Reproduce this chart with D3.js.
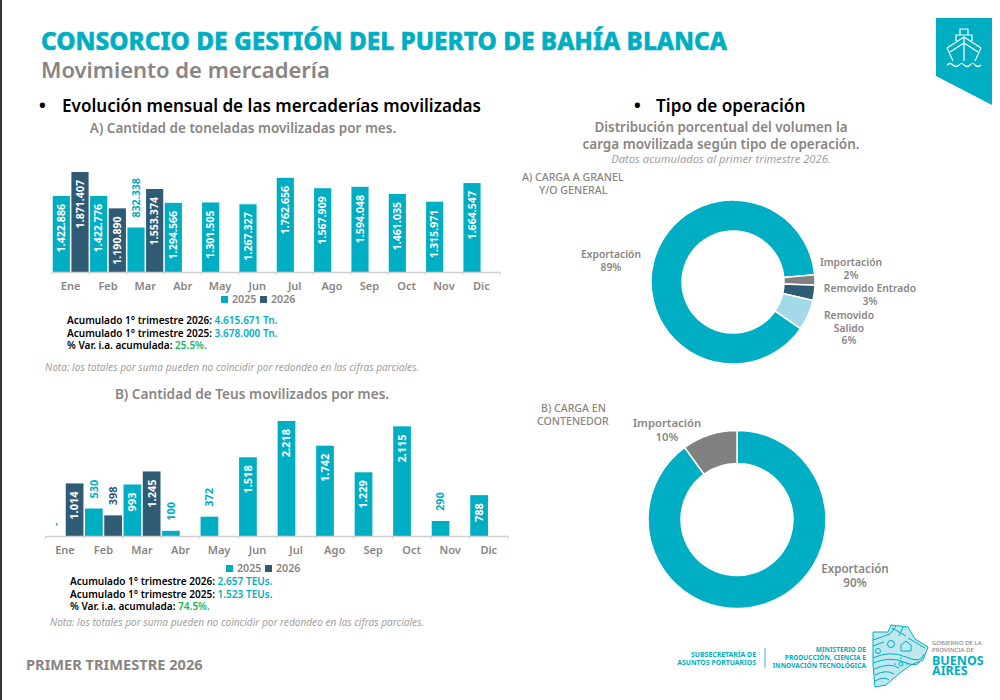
<!DOCTYPE html>
<html>
<head>
<meta charset="utf-8">
<script src="https://cdn.jsdelivr.net/npm/d3@7"></script>
<style>
  html, body { margin: 0; padding: 0; background: #fff; }
  svg { display: block; font-family: "Noto Sans", sans-serif; }
</style>
</head>
<body>
<div id="chart"></div>
<script>
var TEAL = "#00aec3", NAVY = "#2f5b75", GREY = "#8a8583", GREEN = "#1cb55c";

var months = ["Ene", "Feb", "Mar", "Abr", "May", "Jun", "Jul", "Ago", "Sep", "Oct", "Nov", "Dic"];
var years = ["2025", "2026"];

var tons2025 = [1422886, 1422776, 832338, 1294566, 1301505, 1267327, 1762656, 1567909, 1594048, 1461035, 1315971, 1664547];
var tons2026 = [1871407, 1190890, 1553374];
var tonsOutside = ["Mar-2025"];

var teus2025 = [0, 530, 993, 100, 372, 1518, 2218, 1742, 1229, 2115, 290, 788];
var teus2026 = [1014, 398, 1245];
var teusOutside = ["Ene-2025", "Feb-2025", "Feb-2026", "Abr-2025", "May-2025", "Nov-2025"];

var granelLabels = ["Exportación", "Importación", "Removido Entrado", "Removido Salido"];
var granelValues = [89, 2, 3, 6];
var granelColors = [TEAL, "#808080", NAVY, "#a3d9e8"];

var contLabels = ["Exportación", "Importación"];
var contValues = [90, 10];
var contColors = [TEAL, "#808080"];

var fmt = d3.formatLocale({ decimal: ",", thousands: ".", grouping: [3], currency: ["$", ""] }).format(",d");

var svg = d3.select("#chart").append("svg").attr("width", 1000).attr("height", 700);

function text(x, y, str, size, fill, opts) {
  opts = opts || {};
  return svg.append("text")
    .attr("x", x).attr("y", y)
    .attr("font-size", size)
    .attr("fill", fill)
    .attr("font-weight", opts.weight || 700)
    .attr("font-style", opts.italic ? "italic" : null)
    .attr("text-anchor", opts.anchor || "start")
    .text(str);
}

// header
svg.append("rect").attr("x", 0).attr("y", 0).attr("width", 2).attr("height", 700).attr("fill", "#333");
text(41, 50, "CONSORCIO DE GESTIÓN DEL PUERTO DE BAHÍA BLANCA", 24.35, TEAL, { weight: 800 })
  .attr("stroke", TEAL).attr("stroke-width", 0.5);
text(41, 78, "Movimiento de mercadería", 22, GREY, { weight: 600 });

svg.append("path").attr("d", "M936,18H992V105L936,76Z").attr("fill", TEAL);
var ship = svg.append("g").attr("fill", "none").attr("stroke", "#fff").attr("stroke-width", 1.2).attr("stroke-linejoin", "round");
ship.append("path").attr("d", "M960,35V29H968V35M956,41V35H972V41");
ship.append("path").attr("d", "M964,37V61M947,48L964,37L981,48M947,48L953,61M981,48L975,61M950,52L964,43L978,52");
ship.append("path").attr("d", "M947,65q3,-3 6,0q3,3 6,0q3,-3 5,0q3,3 6,0q3,-3 5,0q3,3 6,0");

// left column headings
text(39, 112, "•", 18, "#000");
text(62, 112, "Evolución mensual de las mercaderías movilizadas", 17.1, "#000", { weight: 600 });
text(243, 133, "A) Cantidad de toneladas movilizadas por mes.", 13.5, GREY, { anchor: "middle", weight: 600 });
text(252, 399, "B) Cantidad de Teus movilizados por mes.", 13.65, GREY, { anchor: "middle", weight: 600 });

// draws one grouped bar panel
function barPanel(cfg) {
  var x0 = d3.scaleBand().domain(months).range([cfg.left, cfg.right]);
  var x1 = d3.scaleBand().domain(years).range([0, x0.bandwidth()]).paddingInner(0.08).paddingOuter(0.04);
  var y = d3.scaleLinear().domain([0, d3.max(cfg.a.concat(cfg.b))]).range([cfg.base, cfg.top]);

  var rows = [];
  months.forEach(function(m, i) {
    rows.push({ month: m, year: "2025", value: cfg.a[i] });
    if (i < cfg.b.length) rows.push({ month: m, year: "2026", value: cfg.b[i] });
  });

  var g = svg.append("g");
  g.selectAll("rect").data(rows).enter().append("rect")
    .attr("x", function(d) { return x0(d.month) + x1(d.year); })
    .attr("y", function(d) { return y(d.value); })
    .attr("width", x1.bandwidth())
    .attr("height", function(d) { return cfg.base - y(d.value); })
    .attr("fill", function(d) { return d.year === "2025" ? TEAL : NAVY; });

  g.selectAll("text").data(rows).enter().append("text")
    .attr("transform", function(d) {
      var out = cfg.outside.indexOf(d.month + "-" + d.year) >= 0;
      var ly = out ? y(d.value) - 10 : y(d.value) + 8;
      return "translate(" + (x0(d.month) + x1(d.year) + x1.bandwidth() / 2) + "," + ly + ") rotate(-90)";
    })
    .attr("text-anchor", function(d) {
      return cfg.outside.indexOf(d.month + "-" + d.year) >= 0 ? "start" : "end";
    })
    .attr("dy", "0.35em")
    .attr("font-size", cfg.labelSize)
    .attr("font-weight", 700)
    .attr("fill", function(d) {
      if (cfg.outside.indexOf(d.month + "-" + d.year) < 0) return "#fff";
      return d.year === "2025" ? TEAL : NAVY;
    })
    .text(function(d) { return d.value === 0 ? "-" : fmt(d.value); });

  var axis = d3.axisBottom(x0).tickSize(0).tickPadding(cfg.tickPad);
  var ax = svg.append("g").attr("transform", "translate(0," + cfg.base + ")").call(axis);
  ax.select(".domain").attr("stroke", "#d0d0d0").attr("stroke-width", 1.5);
  ax.selectAll(".tick text")
    .attr("font-family", "Noto Sans")
    .attr("font-size", 11)
    .attr("font-weight", 600)
    .attr("fill", GREY);
  months.concat([null]).forEach(function(m) {
    var px = m ? x0(m) : cfg.right;
    ax.append("line").attr("x1", px).attr("x2", px).attr("y1", 0).attr("y2", 3)
      .attr("stroke", "#d0d0d0").attr("stroke-width", 1);
  });

  // legend
  var lx = cfg.legendX;
  years.forEach(function(yr, i) {
    svg.append("rect").attr("x", lx + i * 39).attr("y", cfg.legendY - 7).attr("width", 7).attr("height", 7)
      .attr("fill", i ? NAVY : TEAL);
    text(lx + 11 + i * 39, cfg.legendY, yr, 10.7, GREY, { weight: 600 });
  });
}

barPanel({
  a: tons2025, b: tons2026, outside: tonsOutside,
  left: 52, right: 500, top: 172, base: 272,
  labelSize: 10.6, tickPad: 10,
  legendX: 221, legendY: 303
});

barPanel({
  a: teus2025, b: teus2026, outside: teusOutside,
  left: 45.7, right: 508, top: 421, base: 536,
  labelSize: 11, tickPad: 10,
  legendX: 226, legendY: 572
});

// cumulative notes
function summary(x, y, lines) {
  lines.forEach(function(l, i) {
    var t = svg.append("text").attr("x", x).attr("y", y + i * 12.6).attr("font-size", 10.05).attr("font-weight", 600);
    t.append("tspan").attr("fill", "#000").text(l[0] + " ");
    t.append("tspan").attr("fill", l[2]).text(l[1]);
  });
}
summary(67, 324, [
  ["Acumulado 1° trimestre 2026:", "4.615.671 Tn.", TEAL],
  ["Acumulado 1° trimestre 2025:", "3.678.000 Tn.", TEAL],
  ["% Var. i.a. acumulada:", "25.5%.", GREEN]
]);
summary(70, 585, [
  ["Acumulado 1° trimestre 2026:", "2.657 TEUs.", TEAL],
  ["Acumulado 1° trimestre 2025:", "1.523 TEUs.", TEAL],
  ["% Var. i.a. acumulada:", "74.5%.", GREEN]
]);
text(45, 371, "Nota: los totales por suma pueden no coincidir por redondeo en las cifras parciales.", 10.1, "#a3a09e", { weight: 400, italic: true });
text(50, 626, "Nota: los totales por suma pueden no coincidir por redondeo en las cifras parciales.", 10.1, "#a3a09e", { weight: 400, italic: true });

// right column
text(634, 112, "•", 18, "#000");
text(656, 112, "Tipo de operación", 17.2, "#000", { weight: 600 });
text(721, 132, "Distribución porcentual del volumen la", 13.4, GREY, { anchor: "middle", weight: 600 });
text(721, 149, "carga movilizada según tipo de operación.", 13.5, GREY, { anchor: "middle", weight: 600 });
text(721, 163, "Datos acumulados al primer trimestre 2026.", 11.2, "#a3a09e", { anchor: "middle", weight: 400, italic: true });

text(522, 181, "A) CARGA A GRANEL", 10.6, GREY, { weight: 500 });
text(539, 194, "Y/O GENERAL", 10.6, GREY, { weight: 500 });
text(541, 412, "B) CARGA EN", 10.6, GREY, { weight: 500 });
text(537, 425, "CONTENEDOR", 10.6, GREY, { weight: 500 });

function donut(cx, cy, r, r0, values, colors, start) {
  var pie = d3.pie().sort(null).startAngle(start).endAngle(start + 2 * Math.PI);
  var arc = d3.arc().innerRadius(r0).outerRadius(r);
  svg.append("g").attr("transform", "translate(" + cx + "," + cy + ")")
    .selectAll("path").data(pie(values)).enter().append("path")
    .attr("d", arc)
    .attr("fill", function(d, i) { return colors[i]; })
    .attr("stroke", "#fff").attr("stroke-width", 1.5);
}
donut(733, 282, 82, 51, granelValues, granelColors, 124.6 * Math.PI / 180);
donut(737, 519.5, 89, 56, contValues, contColors, 0);

function sliceLabel(x, y, lines, size, lh) {
  lines.forEach(function(l, i) {
    text(x, y + i * lh, l, size, GREY, { anchor: "middle", weight: 600 });
  });
}
sliceLabel(611, 258, [granelLabels[0], granelValues[0] + "%"], 10.3, 12.7);
sliceLabel(851, 266, [granelLabels[1], granelValues[1] + "%"], 10.3, 12.7);
sliceLabel(870, 292, [granelLabels[2], granelValues[2] + "%"], 10.3, 12.7);
sliceLabel(849, 319, ["Removido", "Salido", granelValues[3] + "%"], 10.3, 12.7);
sliceLabel(667, 427, [contLabels[1], contValues[1] + "%"], 11.3, 14);
sliceLabel(855, 573, [contLabels[0], contValues[0] + "%"], 11.6, 14);

// footer
text(26, 670, "PRIMER TRIMESTRE 2026", 14.6, GREY, { weight: 700 });
text(756, 657, "SUBSECRETARÍA DE", 6.9, TEAL, { anchor: "end", weight: 700 });
text(756, 665, "ASUNTOS PORTUARIOS", 6.9, TEAL, { anchor: "end", weight: 700 });
svg.append("line").attr("x1", 765).attr("x2", 765).attr("y1", 648).attr("y2", 668).attr("stroke", TEAL).attr("stroke-width", 0.8);
text(866, 652, "MINISTERIO DE", 6.6, TEAL, { anchor: "end", weight: 700 });
text(866, 660, "PRODUCCIÓN, CIENCIA E", 6.6, TEAL, { anchor: "end", weight: 700 });
text(866, 668, "INNOVACIÓN TECNOLÓGICA", 6.6, TEAL, { anchor: "end", weight: 700 });

// province map, only a rough drawing of the logo
var logo = svg.append("g").attr("fill", "none").attr("stroke", TEAL).attr("stroke-width", 1).attr("stroke-linejoin", "round");
logo.append("path")
  .attr("d", "M891,625L908,627L915,639L928,647L923,660L911,665L901,672L886,685L875,687L873,665V632H888Z")
  .attr("fill", "#bfe8ee");
logo.append("path").attr("d", "M873,640L890,634M873,646L884,642M892,628L906,636M896,626L890,634M903,627L899,636M908,638L925,648");
logo.append("path").attr("d", "M873,658Q890,650 906,657T924,654M873,663Q890,656 904,662T920,661M874,669Q890,662 899,668M875,675Q886,669 894,674M875,681Q884,676 889,680");
logo.append("circle").attr("cx", 878).attr("cy", 651).attr("r", 2.5);
logo.append("circle").attr("cx", 891).attr("cy", 644).attr("r", 3.5);
logo.append("path").attr("d", "M901,651V645L906,641L911,645V651Z");
logo.append("circle").attr("cx", 901).attr("cy", 664).attr("r", 2);
logo.append("path").attr("d", "M901,659V657M906,664H908M896,664H894");

// province name, one text block so the tight lines keep their spacing
var prov = svg.append("text").attr("fill", TEAL).attr("font-weight", 700);
[["GOBIERNO DE LA", 645, 6, GREY, 500], ["PROVINCIA DE", 652, 6, GREY, 500],
 ["BUENOS", 665, 12.5, TEAL, 700], ["AIRES", 675, 12.5, TEAL, 700]].forEach(function(l) {
  prov.append("tspan").attr("x", 932).attr("y", l[1]).attr("font-size", l[2]).attr("fill", l[3])
    .attr("font-weight", l[4]).text(l[0]);
});
</script>
</body>
</html>
